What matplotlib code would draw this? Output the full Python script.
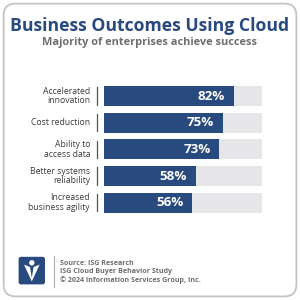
#!/usr/bin/env python3
"""
Business Outcomes Using Cloud - horizontal bar chart (ISG style)
"""
import matplotlib
matplotlib.use("Agg")
import matplotlib.pyplot as plt
from matplotlib.patches import FancyBboxPatch, Polygon, Circle
from matplotlib.transforms import blended_transform_factory

categories = [
    "Accelerated\ninnovation",
    "Cost reduction",
    "Ability to\naccess data",
    "Better systems\nreliability",
    "Increased\nbusiness agility",
]
values = [82, 75, 73, 58, 56]

title = "Business Outcomes Using Cloud"
subtitle = "Majority of enterprises achieve success"
source_lines = [
    "Source: ISG Research",
    "ISG Cloud Buyer Behavior Study",
    "© 2024 Information Services Group, Inc.",
]

NAVY = "#284a7e"
TRACK = "#e6e6e8"
GREY_TEXT = "#6d6e71"
LABEL_TEXT = "#3a3a3a"

plt.rcParams["font.family"] = ["Open Sans", "DejaVu Sans"]

fig = plt.figure(figsize=(3, 3), dpi=100)
fig.patch.set_facecolor("white")

# rounded frame
frame = FancyBboxPatch((0.012, 0.012), 0.976, 0.976,
                       boxstyle="round,pad=0,rounding_size=0.04",
                       transform=fig.transFigure, facecolor="none",
                       edgecolor="#c4c4c4", linewidth=1.3, zorder=-1)
fig.patches.append(frame)

fig.text(0.5, 0.914, title, ha="center", va="center", fontsize=12.7,
         fontweight="bold", color=NAVY)
fig.text(0.5, 0.858, subtitle, ha="center", va="center", fontsize=7.9,
         fontweight="bold", color=GREY_TEXT)

# bars
ax = fig.add_axes([0.3467, 0.28, 0.5267, 0.4444])
y = list(range(len(categories)))
ax.barh(y, [100] * len(values), height=0.75, color=TRACK)
ax.barh(y, values, height=0.75, color=NAVY)
ax.set_xlim(0, 100)
ax.set_ylim(len(categories) - 0.5, -0.5)
ax.axis("off")

for yi, v in zip(y, values):
    ax.text(v - 5.5, yi, f"{v}%", ha="right", va="center", color="white",
            fontsize=9.6, fontweight="bold")

trans = blended_transform_factory(ax.transAxes, ax.transData)
for yi, cat in zip(y, categories):
    ax.text(-0.088, yi, cat, transform=trans, ha="right", va="center",
            fontsize=6.25, color=LABEL_TEXT, linespacing=1.1)
    ax.plot([-0.045, -0.045], [yi - 0.32, yi + 0.32], transform=trans,
            color="#555555", linewidth=0.9, clip_on=False)

# footer: logo + source text
logo = FancyBboxPatch((0.062, 0.052), 0.088, 0.092,
                      boxstyle="round,pad=0,rounding_size=0.008",
                      transform=fig.transFigure, facecolor=NAVY,
                      edgecolor="none")
fig.patches.append(logo)
fig.patches.append(Polygon([(0.080, 0.118), (0.100, 0.110), (0.106, 0.074),
                            (0.112, 0.110), (0.132, 0.118), (0.106, 0.062)],
                           closed=True, transform=fig.transFigure,
                           facecolor="white", edgecolor="none"))
fig.patches.append(Circle((0.106, 0.124), 0.009, transform=fig.transFigure,
                          facecolor="white", edgecolor="none"))
fig.add_artist(plt.Line2D([0.181, 0.181], [0.045, 0.147],
                          transform=fig.transFigure, color="#aaaaaa",
                          linewidth=0.8))
for i, line in enumerate(source_lines):
    fig.text(0.2, 0.123 - i * 0.029, line, ha="left", va="center",
             fontsize=5.15, fontweight="bold", color=GREY_TEXT)

fig.savefig("out.png", dpi=100)
